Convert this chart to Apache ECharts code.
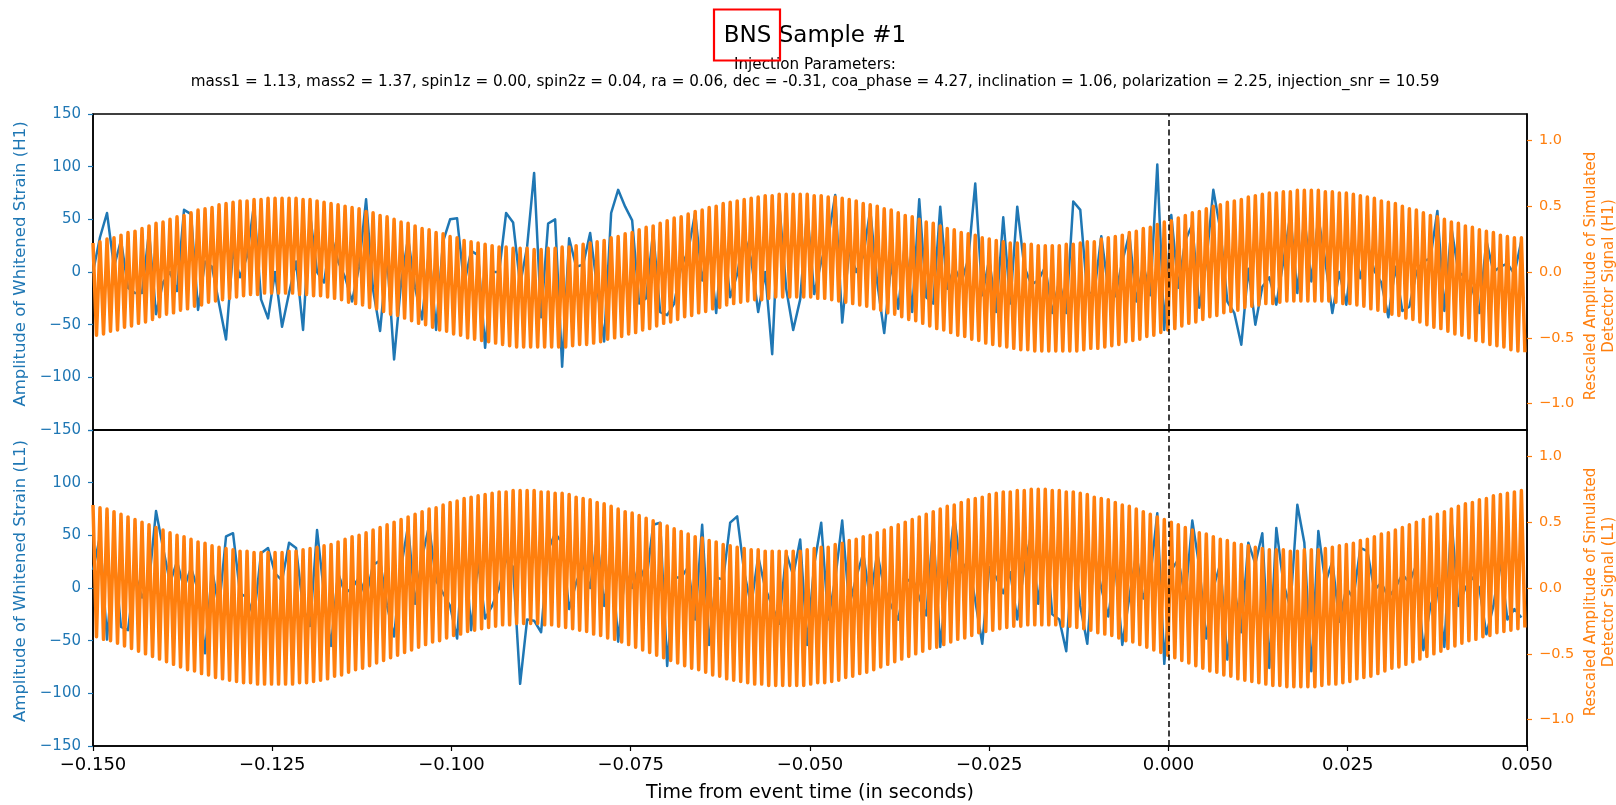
<!DOCTYPE html>
<html>
<head>
<meta charset="utf-8">
<title>BNS Sample #1</title>
<script src="https://cdn.jsdelivr.net/npm/echarts@6.0.0/dist/echarts.min.js"></script>
<style>
  html, body { margin: 0; padding: 0; background: #fff; }
  #chart { width: 1616px; height: 805px; }
</style>
</head>
<body>
<div id="chart"></div>
<script>
// sampling of the traces (seconds from event time)
const T_START = -0.15;
const STRAIN_RATE = 1024;   // whitened strain, read every ~1 ms
const SIGNAL_RATE = 2048;   // injected signal, one value per sample

const xTicks = [-0.15, -0.125, -0.1, -0.075, -0.05, -0.025, 0, 0.025, 0.05];
const strainTicks = [-150, -100, -50, 0, 50, 100, 150];
const signalTicks = [-1, -0.5, 0, 0.5, 1];

// whitened strain (H1), blue
const h1Strain = [
  0, 33, 56, 5, 30, -15, -20, -20, 38, -40, -10, 0, -18, 59, 55, -36, 10, 5, -30, -64,
  20, -5, 15, 64, -26, -44, 0, -52, -20, 10, -55, 55, 0, -10, 35, 10, -5, -28, 5, 69,
  -17, -56, 15, -83, -10, 32, -15, -45, 21, -55, 29, 50, 51, -12, 20, 16, -72, 0, 0, 56,
  47, -12, 24, 94, -43, 46, 50, -90, 32, 5, 7, 37, -14, -66, 56, 78, 62, 49, -30, -25,
  38, -38, -41, -30, 5, 20, 56, -8, 25, -39, 37, -24, -2, 35, 12, -38, 0, -78, 66, -16,
  -55, -26, 58, -21, 10, 32, 73, -48, 21, 0, 15, 59, -10, -58, 8, -35, 30, -38, 69, -24,
  -30, 62, -16, 5, -10, 12, 84, -22, 12, -38, 52, -30, 62, 5, -12, -8, 5, -39, -8, -39,
  67, 59, -20, -20, 34, -16, -23, 10, 36, -28, 7, -22, 102, -55, 54, -15, 30, 45, -34, 10,
  78, 40, -28, -39, -69, 3, -50, -14, -5, -31, 10, 54, -20, 52, -9, 52, 10, -39, 0, -31,
  28, -6, 27, 1, -10, -43, 5, -37, -33, 0, 10, 13, 58, -37, 42, 0, -5, -16, -39, 30,
  0, 5, 8, -2, 30
];

// whitened strain (L1), blue
const l1Strain = [
  17, 49, -49, 33, -37, -40, 14, -9, 5, 73, 38, 5, 25, 0, 19, -2, -62, 17, -19, 49,
  52, -5, -9, -28, 33, 38, 14, 7, 43, 38, -19, -36, 55, -5, -55, 14, -5, 0, 10, -9,
  22, 26, -17, -46, 20, 59, -15, 29, 59, 7, -5, -17, -48, 50, -40, 25, -29, -17, 0, 27,
  20, -91, -30, -31, -42, 36, 52, 43, -20, 5, 22, 0, 48, -17, 38, -51, 16, 0, 22, 5,
  60, 62, -74, 10, 10, 20, -30, 60, -54, 10, 8, 62, 68, 15, -17, 30, 0, -17, -34, 33,
  12, 46, -54, 22, 62, -30, 8, 64, -17, 10, 33, -12, 33, 0, -17, -30, 5, 10, -9, -26,
  57, -56, 10, 68, 15, 27, -12, -53, 20, 10, -5, 15, -30, 20, 51, -15, 54, -25, -30, -60,
  41, -17, -53, 33, 0, -27, 22, -54, -9, 33, -10, 10, 71, -72, 17, 27, -10, 64, 20, -48,
  0, 23, -68, 0, -42, 43, 23, 52, -76, 57, 5, -19, 79, 43, -79, 54, 5, 25, -32, 0,
  -10, 38, 35, -2, 5, -9, 0, 13, 5, 22, -59, -17, 0, -56, 66, -17, 0, 10, 0, -44,
  -17, 25, -30, -20, -28
];

// simulated signal (H1), orange: crest of each sample pair, then trough
const h1SignalUpper = [
  .22, .23, .25, .26, .28, .30, .31, .33, .35, .37, .38, .40, .42, .43, .45, .47, .48, .49, .51, .52,
  .53, .54, .54, .55, .55, .56, .56, .56, .56, .56, .55, .55, .54, .53, .52, .51, .50, .49, .48, .46,
  .45, .43, .42, .40, .38, .37, .35, .33, .32, .30, .29, .27, .26, .24, .23, .22, .21, .20, .19, .19,
  .18, .18, .18, .17, .17, .18, .18, .19, .19, .20, .21, .22, .23, .24, .26, .27, .29, .30, .32, .34,
  .35, .37, .39, .41, .42, .44, .46, .47, .49, .50, .52, .53, .54, .55, .56, .57, .58, .58, .59, .59,
  .59, .59, .59, .58, .58, .57, .57, .56, .55, .54, .52, .51, .50, .48, .47, .45, .43, .42, .40, .38,
  .37, .35, .33, .32, .30, .29, .28, .26, .25, .24, .23, .22, .22, .21, .21, .20, .20, .20, .20, .21,
  .21, .22, .23, .23, .25, .26, .27, .28, .30, .31, .33, .34, .36, .38, .39, .41, .43, .45, .46, .48,
  .50, .51, .53, .54, .55, .57, .58, .59, .60, .60, .61, .61, .62, .62, .62, .62, .61, .61, .60, .60,
  .59, .58, .57, .56, .54, .53, .52, .50, .48, .47, .45, .43, .42, .40, .38, .37, .35, .34, .32, .31,
  .30, .28, .27, .26, .26
];
const h1SignalLower = [
  -.48, -.47, -.45, -.44, -.42, -.41, -.39, -.38, -.36, -.34, -.32, -.31, -.29, -.28, -.26, -.25, -.23, -.22, -.21, -.20,
  -.19, -.18, -.17, -.17, -.16, -.16, -.16, -.16, -.16, -.17, -.17, -.18, -.18, -.19, -.20, -.21, -.23, -.24, -.25, -.27,
  -.28, -.30, -.32, -.33, -.35, -.37, -.39, -.40, -.42, -.44, -.45, -.47, -.48, -.50, -.51, -.52, -.53, -.54, -.55, -.56,
  -.57, -.57, -.57, -.57, -.57, -.57, -.57, -.57, -.56, -.55, -.55, -.54, -.53, -.51, -.50, -.49, -.47, -.46, -.44, -.43,
  -.41, -.39, -.38, -.36, -.34, -.33, -.31, -.30, -.28, -.27, -.25, -.24, -.23, -.22, -.21, -.21, -.20, -.19, -.19, -.19,
  -.19, -.19, -.19, -.20, -.20, -.21, -.22, -.23, -.24, -.25, -.26, -.28, -.29, -.31, -.32, -.34, -.36, -.37, -.39, -.41,
  -.43, -.44, -.46, -.48, -.49, -.51, -.52, -.54, -.55, -.56, -.57, -.58, -.59, -.59, -.60, -.60, -.60, -.60, -.60, -.60,
  -.60, -.59, -.58, -.58, -.57, -.56, -.55, -.53, -.52, -.51, -.49, -.48, -.46, -.44, -.43, -.41, -.39, -.38, -.36, -.34,
  -.33, -.31, -.30, -.29, -.27, -.26, -.25, -.24, -.24, -.23, -.22, -.22, -.22, -.22, -.22, -.22, -.22, -.23, -.24, -.24,
  -.25, -.26, -.28, -.29, -.30, -.32, -.33, -.35, -.36, -.38, -.40, -.42, -.43, -.45, -.47, -.48, -.50, -.52, -.53, -.55,
  -.56, -.57, -.59, -.60, -.61
];

// simulated signal (L1), orange
const l1SignalUpper = [
  .63, .61, .60, .58, .56, .54, .52, .50, .48, .46, .44, .42, .40, .39, .37, .35, .34, .32, .31, .30,
  .29, .28, .28, .27, .27, .27, .27, .27, .28, .28, .29, .30, .31, .32, .33, .35, .37, .39, .40, .42,
  .44, .46, .48, .50, .52, .54, .56, .58, .60, .61, .63, .65, .66, .68, .69, .70, .71, .72, .73, .73,
  .74, .74, .74, .74, .73, .73, .72, .72, .71, .69, .68, .67, .65, .64, .62, .60, .58, .57, .55, .53,
  .51, .49, .47, .45, .43, .41, .39, .38, .36, .35, .33, .32, .31, .30, .29, .29, .28, .28, .28, .28,
  .28, .28, .29, .30, .31, .31, .33, .34, .36, .37, .39, .40, .42, .44, .46, .48, .50, .52, .54, .56,
  .58, .60, .62, .63, .65, .67, .68, .69, .71, .72, .73, .73, .74, .74, .75, .75, .75, .74, .74, .73,
  .73, .72, .71, .69, .68, .67, .65, .63, .62, .60, .58, .56, .54, .52, .50, .48, .46, .44, .42, .41,
  .39, .37, .36, .34, .33, .32, .31, .30, .29, .29, .29, .28, .28, .29, .29, .29, .30, .31, .32, .33,
  .34, .36, .37, .39, .41, .42, .44, .46, .48, .50, .52, .54, .56, .58, .60, .62, .64, .65, .67, .68,
  .70, .71, .72, .73, .74
];
const l1SignalLower = [
  -.37, -.39, -.40, -.42, -.44, -.46, -.48, -.50, -.52, -.54, -.56, -.58, -.60, -.62, -.63, -.65, -.66, -.68, -.69, -.70,
  -.71, -.72, -.72, -.73, -.73, -.73, -.73, -.73, -.73, -.72, -.72, -.71, -.70, -.69, -.67, -.66, -.64, -.62, -.61, -.59,
  -.57, -.55, -.53, -.51, -.49, -.47, -.45, -.43, -.41, -.40, -.38, -.36, -.35, -.33, -.32, -.31, -.30, -.29, -.28, -.28,
  -.27, -.27, -.27, -.27, -.28, -.28, -.29, -.30, -.31, -.32, -.33, -.35, -.36, -.38, -.39, -.41, -.43, -.45, -.47, -.49,
  -.51, -.53, -.55, -.57, -.59, -.61, -.62, -.64, -.66, -.67, -.69, -.70, -.71, -.72, -.73, -.73, -.74, -.74, -.74, -.74,
  -.74, -.74, -.73, -.72, -.72, -.71, -.70, -.68, -.67, -.65, -.64, -.62, -.60, -.58, -.56, -.54, -.52, -.50, -.48, -.46,
  -.45, -.43, -.41, -.39, -.38, -.36, -.34, -.33, -.32, -.31, -.30, -.29, -.29, -.28, -.28, -.28, -.28, -.28, -.29, -.29,
  -.30, -.31, -.32, -.34, -.35, -.36, -.38, -.40, -.41, -.43, -.45, -.47, -.49, -.51, -.53, -.55, -.57, -.59, -.61, -.63,
  -.64, -.66, -.67, -.69, -.70, -.71, -.72, -.73, -.74, -.74, -.75, -.75, -.75, -.75, -.75, -.74, -.73, -.73, -.72, -.71,
  -.69, -.68, -.67, -.65, -.63, -.61, -.60, -.58, -.56, -.54, -.52, -.50, -.48, -.46, -.44, -.42, -.40, -.39, -.37, -.36,
  -.34, -.33, -.32, -.31, -.30
];

const BLUE = '#1f77b4';
const ORANGE = '#ff7f0e';
const FONT = 'DejaVu Sans';

const GRID_LEFT = 93;
const GRID_RIGHT = 89;
const PANEL_TOP = 114;
const PANEL_H = 316;

const minus = s => String(s).replace('-', '\u2212');

// [time, value] pairs for the strain trace
function strainData(values) {
  return values.map((v, j) => [T_START + j / STRAIN_RATE, v]);
}

// crest and trough alternate sample by sample
function signalData(upper, lower) {
  const out = [];
  for (let k = 0; k < upper.length; k++) {
    out.push([T_START + (2 * k) / SIGNAL_RATE, upper[k]]);
    out.push([T_START + (2 * k + 1) / SIGNAL_RATE, lower[k]]);
  }
  return out;
}

const chart = echarts.init(document.getElementById('chart'));

const grids = [0, 1].map(i => ({
  left: GRID_LEFT,
  right: GRID_RIGHT,
  top: PANEL_TOP + i * PANEL_H,
  height: PANEL_H,
  show: true,
  borderColor: '#000',
  borderWidth: 1.5,
  backgroundColor: 'transparent'
}));

const xAxes = [0, 1].map(i => ({
  type: 'value',
  gridIndex: i,
  min: -0.15,
  max: 0.05,
  interval: 0.025,
  axisLine: { onZero: false, lineStyle: { color: '#000', width: 1.5 } },
  axisTick: { show: i === 1, length: 5, lineStyle: { color: '#000', width: 1.2 } },
  axisLabel: {
    show: i === 1,
    showMinLabel: true,
    showMaxLabel: true,
    customValues: xTicks,
    color: '#000',
    fontFamily: FONT,
    fontSize: 18,
    margin: 10,
    formatter: v => minus((Math.abs(v) < 1e-9 ? 0 : v).toFixed(3))
  },
  splitLine: { show: false }
}));

function leftAxis(i) {
  return {
    type: 'value',
    gridIndex: i,
    position: 'left',
    min: -150,
    max: 150,
    interval: 50,
    axisLine: { show: true, onZero: false, lineStyle: { color: '#000', width: 1.5 } },
    axisTick: { show: true, length: 5, lineStyle: { color: BLUE, width: 1.2 } },
    axisLabel: {
      color: BLUE,
      fontFamily: FONT,
      fontSize: 15,
      margin: 12,
      // lower panel's 150 sits on the upper panel's -150
      customValues: i === 0 ? strainTicks : strainTicks.slice(0, -1),
      formatter: v => minus(v)
    },
    splitLine: { show: false }
  };
}

function rightAxis(i) {
  return {
    type: 'value',
    gridIndex: i,
    position: 'right',
    min: -1.2,
    max: 1.2,
    axisLine: { show: true, onZero: false, lineStyle: { color: '#000', width: 1.5 } },
    axisTick: { show: true, length: 5, customValues: signalTicks, lineStyle: { color: ORANGE, width: 1.2 } },
    axisLabel: {
      color: ORANGE,
      fontFamily: FONT,
      fontSize: 14.5,
      margin: 12,
      customValues: signalTicks,
      formatter: v => minus(v.toFixed(1))
    },
    splitLine: { show: false }
  };
}

const eventLine = {
  silent: true,
  symbol: 'none',
  label: { show: false },
  lineStyle: { color: '#000', type: [6, 3.5], width: 1.5 },
  data: [{ xAxis: 0 }]
};

function strainSeries(i, values) {
  return {
    type: 'line',
    xAxisIndex: i,
    yAxisIndex: i * 2,
    data: strainData(values),
    symbol: 'none',
    color: BLUE,
    lineStyle: { color: BLUE, width: 2.5, join: 'round' },
    z: 2
  };
}

function signalSeries(i, upper, lower) {
  return {
    type: 'line',
    xAxisIndex: i,
    yAxisIndex: i * 2 + 1,
    data: signalData(upper, lower),
    symbol: 'none',
    color: ORANGE,
    lineStyle: { color: ORANGE, width: 3.5, join: 'round' },
    z: 3,
    markLine: eventLine
  };
}

function rotatedLabel(x, y, text, color, size) {
  return {
    type: 'text',
    x: x,
    y: y,
    rotation: Math.PI / 2,
    style: {
      text: text,
      fill: color,
      fontFamily: FONT,
      fontSize: size,
      lineHeight: 17.5,
      align: 'center',
      verticalAlign: 'middle',
      textAlign: 'center',
      textVerticalAlign: 'middle'
    }
  };
}

function centredText(x, y, text, size) {
  return {
    type: 'text',
    x: x,
    y: y,
    style: {
      text: text,
      fill: '#000',
      fontFamily: FONT,
      fontSize: size,
      align: 'center',
      verticalAlign: 'middle',
      textAlign: 'center',
      textVerticalAlign: 'middle'
    }
  };
}

const params = 'mass1 = 1.13, mass2 = 1.37, spin1z = 0.00, spin2z = 0.04, ra = 0.06, dec = -0.31, ' +
  'coa_phase = 4.27, inclination = 1.06, polarization = 2.25, injection_snr = 10.59';

chart.setOption({
  animation: false,
  backgroundColor: '#fff',
  grid: grids,
  xAxis: xAxes,
  yAxis: [leftAxis(0), rightAxis(0), leftAxis(1), rightAxis(1)],
  series: [
    strainSeries(0, h1Strain),
    signalSeries(0, h1SignalUpper, h1SignalLower),
    strainSeries(1, l1Strain),
    signalSeries(1, l1SignalUpper, l1SignalLower)
  ],
  graphic: [
    centredText(815, 36, 'BNS Sample #1', 23),
    centredText(815, 65, 'Injection Parameters:', 15.2),
    centredText(815, 82, params, 15.2),
    {
      type: 'rect',
      shape: { x: 714, y: 9.5, width: 66, height: 51 },
      style: { fill: 'none', stroke: '#ff0000', lineWidth: 2.2 }
    },
    centredText(810, 793, 'Time from event time (in seconds)', 19),
    rotatedLabel(21, 264, 'Amplitude of Whitened Strain (H1)', BLUE, 16.5),
    rotatedLabel(21, 581, 'Amplitude of Whitened Strain (L1)', BLUE, 16.5),
    rotatedLabel(1600, 276, 'Rescaled Amplitude of Simulated\nDetector Signal (H1)', ORANGE, 15),
    rotatedLabel(1600, 592, 'Rescaled Amplitude of Simulated\nDetector Signal (L1)', ORANGE, 15)
  ]
});
</script>
</body>
</html>
